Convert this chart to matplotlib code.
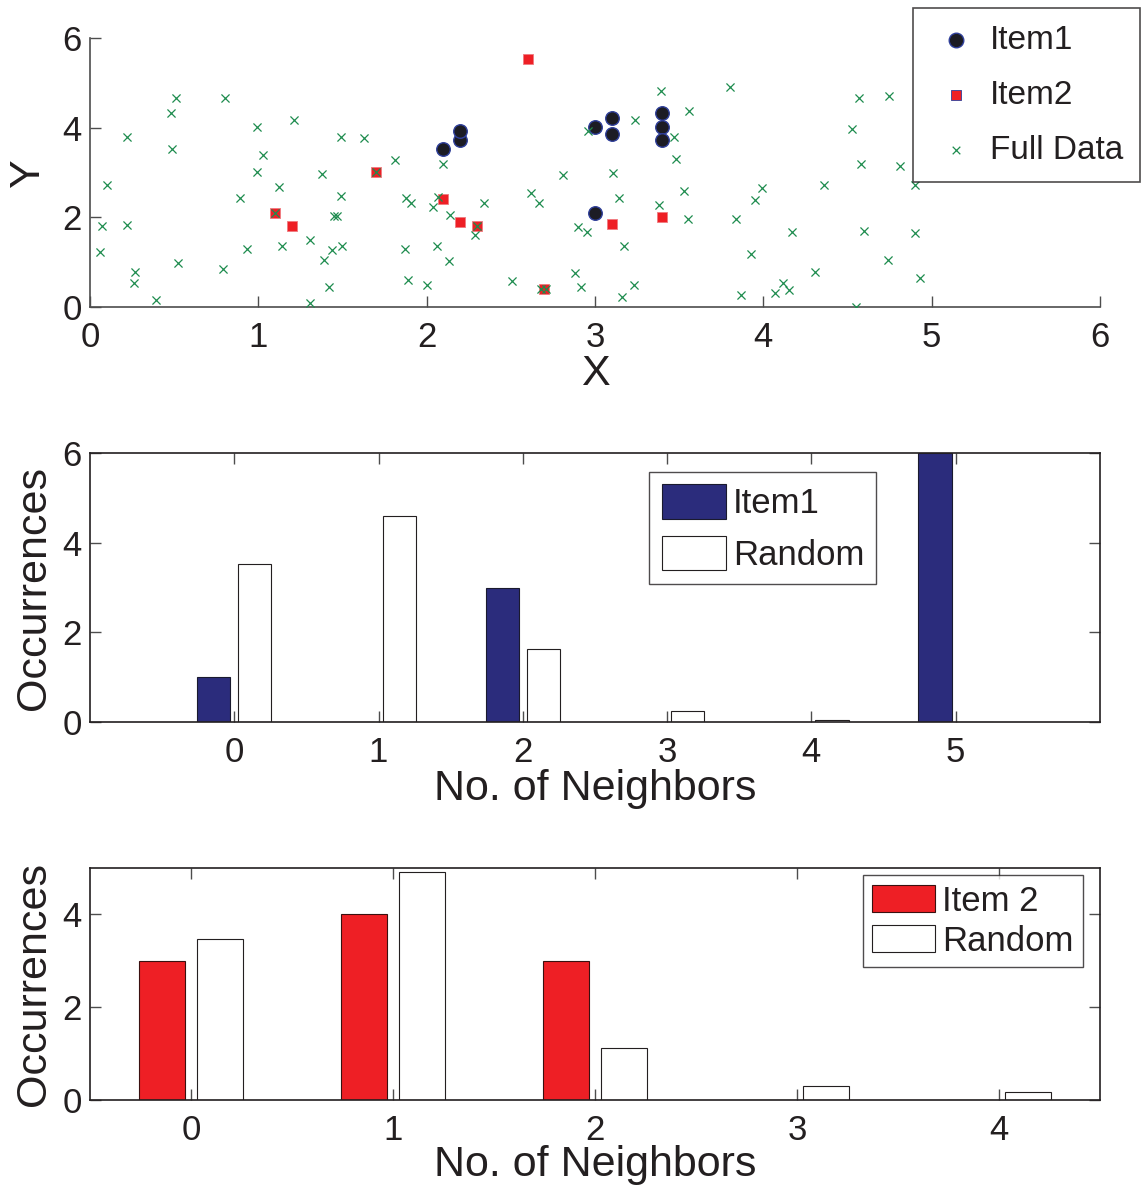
import numpy as np
import matplotlib
matplotlib.use("Agg")
import matplotlib.pyplot as plt

plt.rcParams["font.family"] = ["Liberation Sans", "DejaVu Sans"]
plt.rcParams["text.color"] = "#231f20"
plt.rcParams["axes.labelcolor"] = "#231f20"
plt.rcParams["xtick.color"] = "#231f20"
plt.rcParams["ytick.color"] = "#231f20"

# --- scatter data ---
item1_x = [2.1, 2.2, 2.2, 3.0, 3.0, 3.1, 3.1, 3.4, 3.4, 3.4]
item1_y = [3.52, 3.72, 3.93, 4.01, 2.10, 4.22, 3.86, 4.32, 4.02, 3.72]

item2_x = [1.1, 1.2, 1.7, 2.1, 2.2, 2.3, 2.6, 2.7, 3.1, 3.4]
item2_y = [2.1, 1.8, 3.0, 2.4, 1.9, 1.8, 5.53, 0.41, 1.86, 2.01]

full_x = [0.07, 0.06, 0.10, 0.22, 0.22, 0.27, 0.26, 0.39, 0.48, 0.51,
          0.49, 0.52, 0.80, 0.79, 0.89, 0.93, 0.99, 1.03, 0.99, 1.12,
          1.10, 1.14, 1.21, 1.31, 1.31, 1.38, 1.39, 1.42, 1.45, 1.47,
          1.44, 1.50, 1.49, 1.49, 1.63, 1.70, 1.81, 1.88, 1.91, 1.87,
          1.89, 2.00, 2.06, 2.04, 2.07, 2.10, 2.13, 2.14, 2.34, 2.30,
          2.29, 2.51, 2.62, 2.67, 2.68, 2.71, 2.81, 2.88, 2.90, 2.92,
          2.95, 2.96, 3.11, 3.14, 3.16, 3.17, 3.23, 3.24, 3.38, 3.39,
          3.47, 3.48, 3.53, 3.55, 3.56, 3.80, 3.84, 3.87, 3.93, 3.95,
          3.99, 4.07, 4.12, 4.15, 4.17, 4.31, 4.36, 4.55, 4.53, 4.57,
          4.58, 4.60, 4.74, 4.75, 4.81, 4.90, 4.90, 4.93]
full_y = [1.80, 1.22, 2.73, 3.80, 1.82, 0.79, 0.54, 0.15, 4.33, 4.66,
          3.53, 0.97, 4.66, 0.85, 2.42, 1.29, 4.01, 3.38, 3.01, 2.68,
          2.10, 1.35, 4.16, 1.49, 0.08, 2.96, 1.05, 0.45, 2.02, 2.02,
          1.27, 1.36, 3.79, 2.48, 3.76, 3.00, 3.28, 2.42, 2.32, 1.30,
          0.60, 0.48, 1.36, 2.22, 2.46, 3.18, 1.03, 2.05, 2.31, 1.81,
          1.61, 0.57, 2.54, 2.31, 0.41, 0.41, 2.95, 0.75, 1.78, 0.45,
          1.67, 3.93, 2.98, 2.42, 0.22, 1.36, 0.48, 4.18, 2.28, 4.82,
          3.79, 3.29, 2.58, 1.96, 4.38, 4.91, 1.96, 0.27, 1.18, 2.38,
          2.66, 0.31, 0.54, 0.38, 1.67, 0.78, 2.72, 0.01, 3.97, 4.66,
          3.18, 1.70, 1.05, 4.71, 3.15, 2.73, 1.66, 0.65]

# --- histogram data ---
nb1 = [0, 1, 2, 3, 4, 5]
item1_counts = [1, 0, 3, 0, 0, 6]
random1_counts = [3.53, 4.59, 1.63, 0.24, 0.045, 0]

nb2 = [0, 1, 2, 3, 4]
item2_counts = [3, 4, 3, 0, 0]
random2_counts = [3.46, 4.92, 1.12, 0.31, 0.17]

navy = "#2b2c7c"
red = "#ee1f25"
green = "#1e8c4e"
axcol = "#4d4d4d"

TICK = 25
LAB = 31
LEG = 25

fig = plt.figure(figsize=(11.45, 11.87), dpi=100)

# ──────────────────────────────
# scatter
# ──────────────────────────────
ax1 = fig.add_axes([0.0786, 0.7414, 0.882, 0.2266])
ax1.scatter(item1_x, item1_y, s=95, marker="o", facecolor="#1c1c24",
            edgecolor="#2f3f9a", linewidths=1.0, label="Item1", zorder=3)
ax1.scatter(item2_x, item2_y, s=62, marker="s", facecolor=red,
            edgecolor="#f07a80", linewidths=0.6, label="Item2", zorder=3)
ax1.scatter(full_x, full_y, s=34, marker="x", color=green,
            linewidths=0.9, label="Full Data", zorder=4)
ax1.set_xlim(0, 6)
ax1.set_ylim(0, 6)
ax1.set_xticks(range(7))
ax1.set_yticks([0, 2, 4, 6])
for s in ["top", "right"]:
    ax1.spines[s].set_visible(False)
for s in ["left", "bottom"]:
    ax1.spines[s].set_color(axcol)
    ax1.spines[s].set_linewidth(1.2)
ax1.tick_params(direction="in", length=8, width=1.0, color=axcol,
                labelsize=TICK)
ax1.tick_params(axis="x", pad=10)
ax1.tick_params(axis="y", pad=6)
ax1.set_xlabel("X", fontsize=LAB, labelpad=0)
ax1.set_ylabel("Y", fontsize=LAB, labelpad=10)
leg1 = ax1.legend(loc="upper left", bbox_to_anchor=(0.815, 1.111),
                  borderaxespad=0, fontsize=24, frameon=True, fancybox=False,
                  edgecolor="#231f20", handletextpad=0.2,
                  labelspacing=0.72, borderpad=0.5, handlelength=1.6)
leg1.get_frame().set_linewidth(1.2)
leg1.set_clip_on(False)
h = leg1.legend_handles
h[0].set_sizes([110])
h[1].set_sizes([45])
h[1].set_edgecolor("#2f3f9a")
h[2].set_sizes([30])

# ──────────────────────────────
# bars
# ──────────────────────────────
w = 0.23
off = 0.143


def style_box(ax):
    for s in ax.spines.values():
        s.set_color("#231f20")
        s.set_linewidth(1.2)
    ax.tick_params(direction="in", length=8, width=1.0, color=axcol,
                   labelsize=TICK, top=True, right=True)
    ax.tick_params(axis="x", pad=10)
    ax.tick_params(axis="y", pad=6)


ax2 = fig.add_axes([0.0786, 0.3917, 0.882, 0.2266])
x1 = np.array(nb1)
ax2.bar(x1 - off, item1_counts, width=w, color=navy, edgecolor="#1a1a2e",
        linewidth=0.8, label="Item1")
ax2.bar(x1 + off, random1_counts, width=w, color="white", edgecolor="#231f20",
        linewidth=0.8, label="Random")
ax2.set_xlim(-1, 6)
ax2.set_ylim(0, 6)
ax2.set_xticks(nb1)
ax2.set_yticks([0, 2, 4, 6])
style_box(ax2)
ax2.set_xlabel("No. of Neighbors", fontsize=LAB, labelpad=0)
ax2.set_ylabel("Occurrences", fontsize=LAB, labelpad=6)
leg2 = ax2.legend(loc="upper left", bbox_to_anchor=(0.554, 0.929),
                  borderaxespad=0, fontsize=LEG, frameon=True, fancybox=False,
                  edgecolor="#231f20", handlelength=1.85, handleheight=1.15,
                  handletextpad=0.2, labelspacing=0.45, borderpad=0.35)
leg2.get_frame().set_linewidth(1.0)

ax3 = fig.add_axes([0.0786, 0.0733, 0.882, 0.1955])
x2 = np.array(nb2)
ax3.bar(x2 - off, item2_counts, width=w, color=red, edgecolor="#3a1010",
        linewidth=0.8, label="Item 2")
ax3.bar(x2 + off, random2_counts, width=w, color="white", edgecolor="#231f20",
        linewidth=0.8, label="Random")
ax3.set_xlim(-0.5, 4.5)
ax3.set_ylim(0, 5)
ax3.set_xticks(nb2)
ax3.set_yticks([0, 2, 4])
style_box(ax3)
ax3.set_xlabel("No. of Neighbors", fontsize=LAB, labelpad=-1)
ax3.set_ylabel("Occurrences", fontsize=LAB, labelpad=6)
leg3 = ax3.legend(loc="upper left", bbox_to_anchor=(0.765, 0.970),
                  borderaxespad=0, fontsize=LEG, frameon=True, fancybox=False,
                  edgecolor="#231f20", handlelength=1.8, handleheight=0.85,
                  handletextpad=0.2, labelspacing=0.2, borderpad=0.28)
leg3.get_frame().set_linewidth(1.0)

fig.savefig("out.png", dpi=100)
